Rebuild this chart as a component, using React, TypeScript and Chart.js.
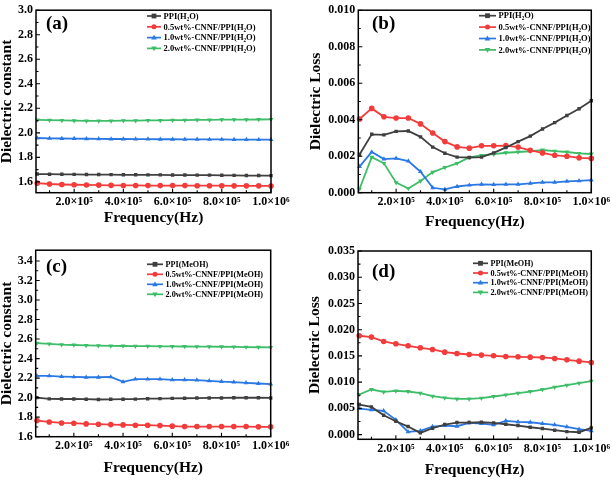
import { useEffect, useRef } from 'react';
import { Chart, registerables } from 'chart.js';
Chart.register(...registerables);

const FONT = '"Liberation Serif", "Times New Roman", serif';
const COLORS = ['#3f3f3f', '#f23c3c', '#2a78e4', '#3dbd68'];
const MARKERS = ['rect', 'circle', 'triangle', 'triangleDown'];

const freqs = [50000, 100000, 150000, 200000, 250000, 300000, 350000, 400000, 450000, 500000,
  550000, 600000, 650000, 700000, 750000, 800000, 850000, 900000, 950000, 1000000];
const xTickValues = [200000, 400000, 600000, 800000, 1000000];
const xTickLabels = ['2.0×10⁵', '4.0×10⁵', '6.0×10⁵', '8.0×10⁵', '1.0×10⁶'];
const xMinorTicks = [100000, 300000, 500000, 700000, 900000];

const labelsH2O = ['PPI(H₂O)', '0.5wt%-CNNF/PPI(H₂O)', '1.0wt%-CNNF/PPI(H₂O)', '2.0wt%-CNNF/PPI(H₂O)'];
const labelsMeOH = ['PPI(MeOH)', '0.5wt%-CNNF/PPI(MeOH)', '1.0wt%-CNNF/PPI(MeOH)', '2.0wt%-CNNF/PPI(MeOH)'];

// (a) dielectric constant, H2O
const aPPI = [1.664, 1.663, 1.662, 1.661, 1.660, 1.660, 1.659, 1.658, 1.658, 1.657, 1.657, 1.656, 1.656, 1.655, 1.655, 1.654, 1.653, 1.652, 1.652, 1.651];
const aC05 = [1.590, 1.583, 1.579, 1.577, 1.575, 1.574, 1.572, 1.571, 1.571, 1.570, 1.570, 1.570, 1.570, 1.569, 1.569, 1.569, 1.568, 1.568, 1.568, 1.567];
const aC10 = [1.958, 1.955, 1.954, 1.953, 1.952, 1.951, 1.950, 1.950, 1.949, 1.949, 1.948, 1.948, 1.947, 1.947, 1.946, 1.946, 1.945, 1.945, 1.944, 1.944];
const aC20 = [2.105, 2.104, 2.102, 2.100, 2.098, 2.098, 2.098, 2.099, 2.100, 2.101, 2.102, 2.103, 2.104, 2.105, 2.106, 2.107, 2.108, 2.108, 2.109, 2.110];
const aYTicks = [1.6, 1.8, 2.0, 2.2, 2.4, 2.6, 2.8, 3.0];

// (b) dielectric loss, H2O
const bPPI = [0.00209, 0.0032, 0.00317, 0.00336, 0.00338, 0.00306, 0.0025, 0.00216, 0.00195, 0.00193, 0.00195, 0.00218, 0.00248, 0.0028, 0.0031, 0.00349, 0.00384, 0.00423, 0.0046, 0.00504];
const bC05 = [0.00404, 0.00462, 0.00416, 0.00409, 0.00409, 0.00377, 0.00327, 0.0028, 0.00251, 0.00244, 0.00257, 0.00257, 0.00258, 0.0025, 0.00232, 0.00218, 0.00205, 0.002, 0.00191, 0.00188];
const bC10 = [0.00143, 0.00223, 0.00184, 0.00188, 0.00173, 0.00115, 0.00027, 0.00018, 0.00034, 0.00041, 0.00046, 0.00044, 0.00046, 0.00046, 0.00051, 0.00057, 0.00057, 0.00062, 0.00065, 0.00069];
const bC20 = [0.0002, 0.00195, 0.00161, 0.00055, 0.00023, 0.00064, 0.00113, 0.00138, 0.00161, 0.00193, 0.00205, 0.00211, 0.00219, 0.00223, 0.00227, 0.00234, 0.00228, 0.00223, 0.00216, 0.00212];
const bYTicks = [0, 0.002, 0.004, 0.006, 0.008, 0.010];

// (c) dielectric constant, MeOH
const cPPI = [2.000, 1.987, 1.986, 1.986, 1.984, 1.981, 1.983, 1.984, 1.985, 1.989, 1.990, 1.993, 1.994, 1.996, 1.997, 1.997, 1.999, 1.999, 1.999, 1.997];
const cC05 = [1.765, 1.751, 1.741, 1.738, 1.731, 1.728, 1.724, 1.721, 1.718, 1.718, 1.714, 1.708, 1.704, 1.704, 1.704, 1.704, 1.704, 1.704, 1.701, 1.701];
const cC10 = [2.222, 2.222, 2.216, 2.212, 2.209, 2.209, 2.212, 2.162, 2.189, 2.189, 2.189, 2.182, 2.182, 2.179, 2.172, 2.165, 2.159, 2.152, 2.145, 2.138];
const cC20 = [2.558, 2.551, 2.543, 2.539, 2.535, 2.532, 2.530, 2.529, 2.528, 2.527, 2.526, 2.525, 2.524, 2.523, 2.522, 2.521, 2.520, 2.518, 2.516, 2.514];
const cYTicks = [1.6, 1.8, 2.0, 2.2, 2.4, 2.6, 2.8, 3.0, 3.2, 3.4];

// (d) dielectric loss, MeOH
const dPPI = [0.00573, 0.00528, 0.00369, 0.00255, 0.00153, 0.00032, 0.00121, 0.00191, 0.00229, 0.00229, 0.00235, 0.00223, 0.00197, 0.00172, 0.0014, 0.00115, 0.00083, 0.00057, 0.00045, 0.00127];
const dC05 = [0.01884, 0.01858, 0.01776, 0.01731, 0.01693, 0.01655, 0.01623, 0.01572, 0.01546, 0.01527, 0.01515, 0.01502, 0.01489, 0.01483, 0.01476, 0.0147, 0.01451, 0.01425, 0.014, 0.01375];
const dC10 = [0.00496, 0.00471, 0.00452, 0.0028, 0.00051, 0.0007, 0.00153, 0.00172, 0.00159, 0.00223, 0.0021, 0.00185, 0.00261, 0.00242, 0.00235, 0.0021, 0.00185, 0.00146, 0.00102, 0.0007];
const dC20 = [0.00764, 0.00859, 0.00815, 0.00834, 0.00821, 0.00789, 0.00732, 0.007, 0.00681, 0.00681, 0.00694, 0.00726, 0.00757, 0.00789, 0.00821, 0.00859, 0.00904, 0.00942, 0.0098, 0.01018];
const dYTicks = [0, 0.005, 0.010, 0.015, 0.020, 0.025, 0.030, 0.035];

function drawMarker(ctx: CanvasRenderingContext2D, style: string, x: number, y: number, r: number, color: string) {
  ctx.save();
  ctx.fillStyle = color;
  ctx.beginPath();
  if (style === 'rect') {
    ctx.rect(x - r, y - r, 2 * r, 2 * r);
  } else if (style === 'circle') {
    ctx.arc(x, y, r * 1.05, 0, Math.PI * 2);
  } else if (style === 'triangle') {
    ctx.moveTo(x, y - r * 1.2);
    ctx.lineTo(x + r * 1.15, y + r * 0.8);
    ctx.lineTo(x - r * 1.15, y + r * 0.8);
    ctx.closePath();
  } else {
    ctx.moveTo(x, y + r * 1.2);
    ctx.lineTo(x + r * 1.15, y - r * 0.8);
    ctx.lineTo(x - r * 1.15, y - r * 0.8);
    ctx.closePath();
  }
  ctx.fill();
  ctx.restore();
}

const decorPlugin = {
  id: 'decor',
  afterDatasetsDraw(chart: any, _args: any, opts: any) {
    const { ctx, chartArea: a, scales } = chart;
    const xs = scales.x;
    const ys = scales.y;
    ctx.save();
    ctx.strokeStyle = '#000';
    ctx.lineWidth = 1.5;
    ctx.strokeRect(a.left, a.top, a.right - a.left, a.bottom - a.top);
    ctx.lineWidth = 1.1;
    ctx.beginPath();
    xTickValues.forEach((v) => {
      const px = xs.getPixelForValue(v);
      ctx.moveTo(px, a.bottom);
      ctx.lineTo(px, a.bottom - 4);
    });
    xMinorTicks.forEach((v) => {
      const px = xs.getPixelForValue(v);
      ctx.moveTo(px, a.bottom);
      ctx.lineTo(px, a.bottom - 2.5);
    });
    const yt: number[] = opts.yTicks;
    yt.forEach((v, i) => {
      const py = ys.getPixelForValue(v);
      ctx.moveTo(a.left, py);
      ctx.lineTo(a.left + 4, py);
      if (i < yt.length - 1) {
        const pm = ys.getPixelForValue((v + yt[i + 1]) / 2);
        ctx.moveTo(a.left, pm);
        ctx.lineTo(a.left + 2.5, pm);
      }
    });
    ctx.stroke();

    // panel label
    ctx.fillStyle = '#000';
    ctx.font = `bold 19px ${FONT}`;
    ctx.textBaseline = 'middle';
    ctx.textAlign = 'left';
    ctx.fillText(opts.panel, opts.panelX, opts.panelY);

    // legend
    ctx.font = `bold ${opts.legFont}px ${FONT}`;
    chart.data.datasets.forEach((ds: any, i: number) => {
      const y = opts.legY + i * opts.legDy;
      ctx.strokeStyle = ds.borderColor;
      ctx.lineWidth = 1.7;
      ctx.beginPath();
      ctx.moveTo(opts.legX, y);
      ctx.lineTo(opts.legX + opts.legLen, y);
      ctx.stroke();
      drawMarker(ctx, MARKERS[i], opts.legX + opts.legLen / 2, y, 2.4, ds.borderColor);
      ctx.fillStyle = '#000';
      ctx.fillText(ds.label, opts.legX + opts.legLen + 2.5, y + 0.5);
    });
    ctx.restore();
  },
};

type Panel = {
  series: number[][];
  labels: string[];
  yTicks: number[];
  yMin: number;
  yMax: number;
  digits: number;
  yTitle: string;
  yw: number;
  padR: number;
  padT: number;
  xh: number;
  xTitlePad: number;
  yTitlePad: number;
  panel: string;
  panelX: number;
  panelY: number;
  legX: number;
  legY: number;
  legDy: number;
  legLen: number;
  legFont: number;
};

function makeConfig(p: Panel): any {
  return {
    type: 'line',
    data: {
      labels: freqs,
      datasets: p.series.map((s, i) => ({
        label: p.labels[i],
        data: freqs.map((f, j) => ({ x: f, y: s[j] })),
        borderColor: COLORS[i],
        backgroundColor: COLORS[i],
        borderWidth: 1.8,
        pointRadius: MARKERS[i] === 'rect' ? 2.4 : 2.8,
        pointBorderWidth: 0,
        pointStyle: MARKERS[i] === 'triangleDown' ? 'triangle' : MARKERS[i],
        rotation: MARKERS[i] === 'triangleDown' ? 180 : 0,
        tension: 0,
        clip: 3,
      })),
    },
    options: {
      animation: false,
      responsive: false,
      devicePixelRatio: 1,
      layout: { padding: { left: 0, right: p.padR, top: p.padT, bottom: 0 } },
      plugins: {
        legend: { display: false },
        tooltip: { enabled: false },
        decor: {
          yTicks: p.yTicks,
          panel: p.panel,
          panelX: p.panelX,
          panelY: p.panelY,
          legX: p.legX,
          legY: p.legY,
          legDy: p.legDy,
          legLen: p.legLen,
          legFont: p.legFont,
        },
      },
      scales: {
        x: {
          type: 'linear',
          min: 45000,
          max: 1000000,
          grid: { display: false, drawTicks: false },
          border: { display: false },
          afterBuildTicks: (scale: any) => {
            scale.ticks = xTickValues.map((v) => ({ value: v }));
          },
          afterFit: (scale: any) => {
            scale.height = p.xh;
          },
          ticks: {
            autoSkip: false,
            maxRotation: 0,
            padding: 2,
            color: '#000',
            font: { family: FONT, size: 12, weight: 'bold' },
            callback: (v: number) => {
              const i = xTickValues.indexOf(v);
              return i >= 0 ? xTickLabels[i] : '';
            },
          },
          title: {
            display: true,
            text: 'Frequency(Hz)',
            color: '#000',
            font: { family: FONT, size: 15.5, weight: 'bold', lineHeight: 1 },
            padding: { top: 0, bottom: p.xTitlePad },
          },
        },
        y: {
          type: 'linear',
          min: p.yMin,
          max: p.yMax,
          grid: { display: false, drawTicks: false },
          border: { display: false },
          afterBuildTicks: (scale: any) => {
            scale.ticks = p.yTicks.map((v) => ({ value: v }));
          },
          afterFit: (scale: any) => {
            scale.width = p.yw;
          },
          ticks: {
            autoSkip: false,
            padding: 3,
            color: '#000',
            font: { family: FONT, size: 12, weight: 'bold' },
            callback: (v: number) => Number(v).toFixed(p.digits),
          },
          title: {
            display: true,
            text: p.yTitle,
            color: '#000',
            font: { family: FONT, size: 15.5, weight: 'bold', lineHeight: 1 },
            padding: { top: p.yTitlePad, bottom: 0 },
          },
        },
      },
    },
    plugins: [decorPlugin],
  };
}

const panels: { left: number; top: number; w: number; h: number; p: Panel }[] = [
  {
    left: 0, top: 0, w: 306, h: 240,
    p: {
      series: [aPPI, aC05, aC10, aC20], labels: labelsH2O, yTicks: aYTicks, yMin: 1.512, yMax: 3.0, digits: 1,
      yTitle: 'Dielectric constant', yw: 36, padR: 35, padT: 5, xh: 47.3, xTitlePad: 14.5, yTitlePad: -0.5,
      panel: '(a)', panelX: 46, panelY: 24, legX: 147, legY: 16, legDy: 10.8, legLen: 14, legFont: 8.5,
    },
  },
  {
    left: 306, top: 0, w: 306, h: 240,
    p: {
      series: [bPPI, bC05, bC10, bC20], labels: labelsH2O, yTicks: bYTicks, yMin: 0, yMax: 0.0100, digits: 3,
      yTitle: 'Dielectric Loss', yw: 52.3, padR: 19.3, padT: 6, xh: 47.3, xTitlePad: 10.5, yTitlePad: 2.5,
      panel: '(b)', panelX: 66, panelY: 24, legX: 173, legY: 15.7, legDy: 11.4, legLen: 17, legFont: 8.5,
    },
  },
  {
    left: 0, top: 240, w: 306, h: 241,
    p: {
      series: [cPPI, cC05, cC10, cC20], labels: labelsMeOH, yTicks: cYTicks, yMin: 1.6, yMax: 3.51, digits: 1,
      yTitle: 'Dielectric constant', yw: 35.7, padR: 35.3, padT: 7.3, xh: 44.3, xTitlePad: 5, yTitlePad: -0.5,
      panel: '(c)', panelX: 46, panelY: 26.7, legX: 147, legY: 24.3, legDy: 10, legLen: 16, legFont: 8.2,
    },
  },
  {
    left: 306, top: 240, w: 306, h: 241,
    p: {
      series: [dPPI, dC05, dC10, dC20], labels: labelsMeOH, yTicks: dYTicks, yMin: -0.0009, yMax: 0.035, digits: 3,
      yTitle: 'Dielectric Loss', yw: 52, padR: 19, padT: 11, xh: 41.7, xTitlePad: 3, yTitlePad: 1.5,
      panel: '(d)', panelX: 66, panelY: 31.7, legX: 167, legY: 23.3, legDy: 9.7, legLen: 15, legFont: 8.2,
    },
  },
];

function ChartPanel({ left, top, w, h, p }: { left: number; top: number; w: number; h: number; p: Panel }) {
  const ref = useRef<HTMLCanvasElement | null>(null);
  useEffect(() => {
    if (!ref.current) return;
    const chart = new Chart(ref.current, makeConfig(p));
    return () => chart.destroy();
  }, []);
  return (
    <div style={{ position: 'absolute', left, top, width: w, height: h }}>
      <canvas ref={ref} width={w} height={h} style={{ width: w, height: h, display: 'block' }} />
    </div>
  );
}

export default function App() {
  return (
    <div style={{ position: 'absolute', left: 0, top: 0, width: 612, height: 481, background: '#fff' }}>
      {panels.map((pp, i) => (
        <ChartPanel key={i} {...pp} />
      ))}
    </div>
  );
}
